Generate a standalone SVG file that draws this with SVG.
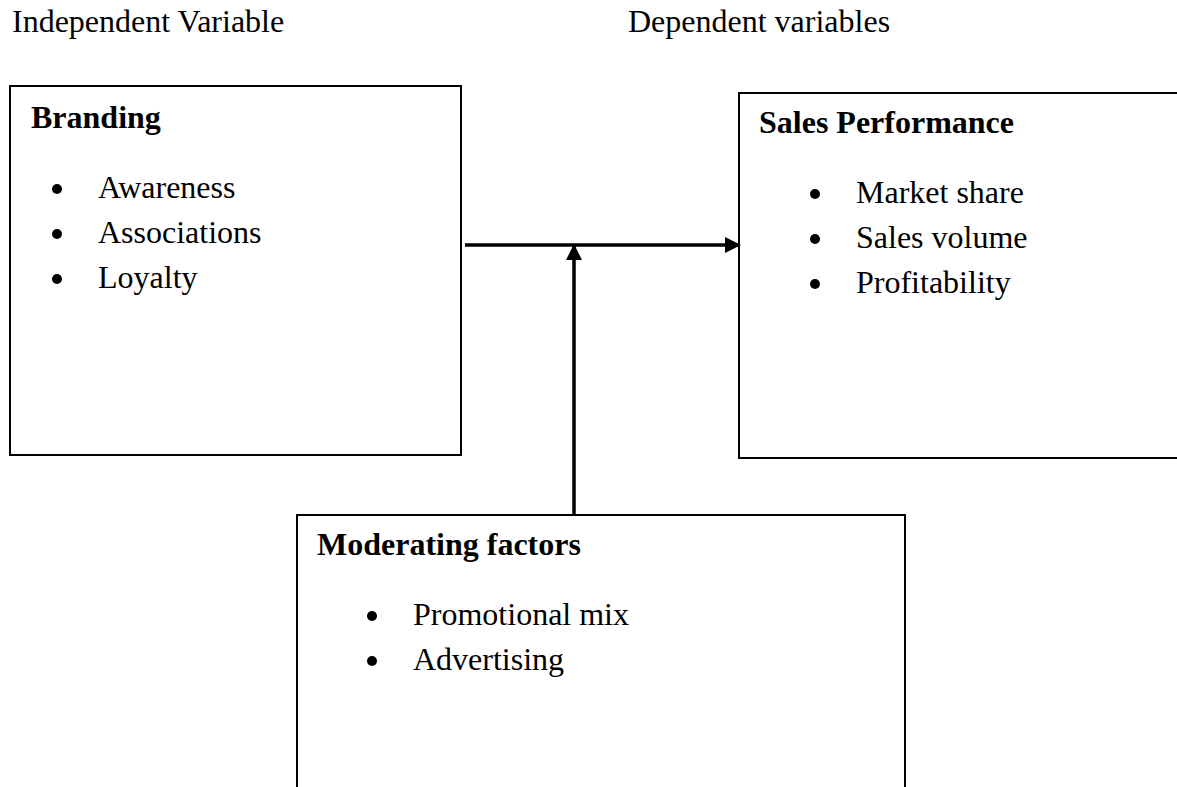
<svg xmlns="http://www.w3.org/2000/svg" width="1177" height="787" viewBox="0 0 1177 787">
<style>
.box{fill:#fff;stroke:#000;stroke-width:2}
.t{font-family:"Liberation Serif","Times New Roman",serif;font-size:32px;fill:#000}
.h{font-family:"Liberation Serif","Times New Roman",serif;font-size:32px;font-weight:bold;fill:#000}
.conn{stroke:#000;stroke-width:3.5;fill:none}
</style>
<defs>
<marker id="arr" markerWidth="16" markerHeight="16" refX="15" refY="8" orient="auto" markerUnits="userSpaceOnUse">
<path d="M0,0 L16,8 L0,16 Z" fill="#000"/>
</marker>
</defs>
<rect width="1177" height="787" fill="#fff"/>
<text class="t" x="12" y="32">Independent Variable</text>
<text class="t" x="628" y="32">Dependent variables</text>
<g id="branding">
<rect class="box" x="10" y="86" width="451" height="369"/>
<text class="h" x="31" y="128">Branding</text>
<circle cx="57" cy="189" r="5"/>
<text class="t" x="98" y="198">Awareness</text>
<circle cx="57" cy="234" r="5"/>
<text class="t" x="98" y="243">Associations</text>
<circle cx="57" cy="279" r="5"/>
<text class="t" x="98" y="288">Loyalty</text>
</g>
<g id="sales">
<rect class="box" x="739" y="93" width="445" height="365"/>
<text class="h" x="759" y="133">Sales Performance</text>
<circle cx="815" cy="194" r="5"/>
<text class="t" x="856" y="203">Market share</text>
<circle cx="815" cy="239" r="5"/>
<text class="t" x="856" y="248">Sales volume</text>
<circle cx="815" cy="284" r="5"/>
<text class="t" x="856" y="293">Profitability</text>
</g>
<g id="moderating">
<rect class="box" x="297" y="515" width="608" height="290"/>
<text class="h" x="317" y="555">Moderating factors</text>
<circle cx="372" cy="616" r="5"/>
<text class="t" x="413" y="625">Promotional mix</text>
<circle cx="372" cy="661" r="5"/>
<text class="t" x="413" y="670">Advertising</text>
</g>
<g id="connectors">
<line class="conn" x1="465" y1="245" x2="740" y2="245" marker-end="url(#arr)"/>
<line class="conn" x1="574" y1="515" x2="574" y2="245" marker-end="url(#arr)"/>
</g>
</svg>
